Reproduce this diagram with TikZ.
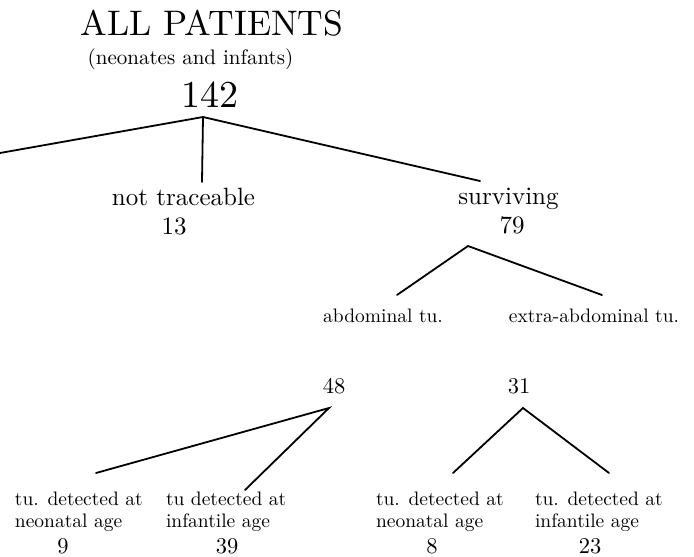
\documentclass[tikz,border=0pt]{standalone}
\usepackage{fontspec}
\setmainfont{lmroman10-regular.otf}
\begin{document}
\begin{tikzpicture}[x=1pt,y=-1pt,
  branch/.style={line width=1.8pt,line cap=round},
  lbl/.style={inner sep=0pt,outer sep=0pt,anchor=base},
  lblw/.style={inner sep=0pt,outer sep=0pt,anchor=base west},
  ttl/.style={font=\fontsize{35.5}{40}\selectfont},
  sub/.style={font=\fontsize{21}{25}\selectfont},
  big/.style={font=\fontsize{38}{42}\selectfont},
  mid/.style={font=\fontsize{25}{30}\selectfont},
  sml/.style={font=\fontsize{19.5}{23}\selectfont},
  leaf/.style={font=\fontsize{19.5}{24}\selectfont},
  num/.style={font=\fontsize{22.5}{26}\selectfont}]
\useasboundingbox (0,0) rectangle (694,557);
% top
\node[lbl,ttl] (title) at (212,35) {ALL PATIENTS};
\node[lbl,sub] (subt) at (190.5,64) {(neonates and infants)};
\node[lbl,big] (n142) at (210,107) {142};
\coordinate (A) at (203,117);
\coordinate (Aleft) at (0,153);
\coordinate (Amid) at (202,182);
\coordinate (Aright) at (480,181);
\draw[branch] (Aleft) -- (A) -- (Aright);
\draw[branch] (A) -- (Amid);
% second level
\node[lbl,mid] (nt) at (183.5,205) {not traceable};
\node[lbl,mid] (n13) at (174,234) {13};
\node[lbl,mid] (surv) at (508.5,204) {surviving};
\node[lbl,mid] (n79) at (512,233) {79};
\coordinate (B) at (468,246);
\coordinate (Bleft) at (397,295);
\coordinate (Bright) at (602,295);
\draw[branch] (Bleft) -- (B) -- (Bright);
\node[lbl,sml] (abd) at (383,322) {abdominal tu.};
\node[lbl,sml] (xabd) at (594,322) {extra-abdominal tu.};
% third level
\node[lbl,num] (n48) at (334,393) {48};
\node[lbl,num] (n31) at (519,393) {31};
\coordinate (C) at (329,408);
\coordinate (Cleft) at (96,473);
\coordinate (Cright) at (245,490);
\draw[branch] (Cleft) -- (C) -- (Cright);
\coordinate (D) at (523,408);
\coordinate (Dleft) at (453,473);
\coordinate (Dright) at (609,473);
\draw[branch] (Dleft) -- (D) -- (Dright);
% leaves
\node[lblw,leaf] (l1a) at (15,505) {tu. detected at};
\node[lblw,leaf] (l1b) at (15,527) {neonatal age};
\node[lbl,num] (n9) at (63,553) {9};
\node[lblw,leaf] (l2a) at (166,505) {tu detected at};
\node[lblw,leaf] (l2b) at (166,527) {infantile age};
\node[lbl,num] (n39) at (227,553) {39};
\node[lblw,leaf] (l3a) at (376,505) {tu. detected at};
\node[lblw,leaf] (l3b) at (376,527) {neonatal age};
\node[lbl,num] (n8) at (432,553) {8};
\node[lblw,leaf] (l4a) at (535,505) {tu. detected at};
\node[lblw,leaf] (l4b) at (535,527) {infantile age};
\node[lbl,num] (n23) at (590,553) {23};
\end{tikzpicture}
\end{document}
